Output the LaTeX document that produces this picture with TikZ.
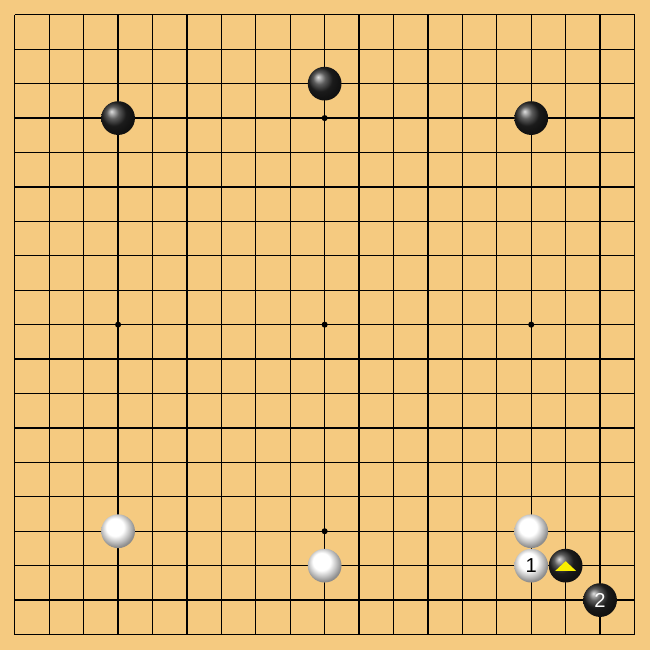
\documentclass[tikz,border=0pt]{standalone}
\usepackage{fontspec}
\setsansfont{Liberation Sans}
\usetikzlibrary{calc,shadings}
\definecolor{boardwood}{RGB}{245,202,128}
\definecolor{markyellow}{RGB}{250,240,0}
\pgfdeclareradialshading{whiteball}{\pgfqpoint{-6bp}{8bp}}{color(0bp)=(white); color(13bp)=(white); color(21bp)=(black!25); color(27bp)=(black!45); color(50bp)=(black!60)}
\tikzset{
	bstone/.style={circle, inner sep=0pt, minimum size=0.98cm*0.6, shading=ball, ball color=black!85},
	wstone/.style={circle, inner sep=0pt, minimum size=0.98cm*0.6, shading=whiteball},
	movenum/.style={font=\sffamily\fontsize{10}{12}\selectfont}
}

\begin{document}
\begin{tikzpicture}[x=0.6cm, y=-0.6cm]
		%%%%% START %%%%%
		
		\fill[boardwood] (-0.43, -0.43) rectangle (18.45, 18.45);
		\useasboundingbox (-0.43, -0.43) rectangle (18.45, 18.45);
		
		\foreach \i in {0,...,18}{
			\draw[line width=0.6pt] (\i, 0) -- (\i, 18);
			\draw[line width=0.6pt] (0, \i) -- (18, \i);
		}
		
		\foreach \i in {3,9,15}
			\foreach \j in {3,9,15}
				\fill (\i, \j) circle (1.5pt);
		
		% black stones
		\node[bstone] (b1) at (3, 3) {};
		\node[bstone] (b2) at (9, 2) {};
		\node[bstone] (b3) at (15, 3) {};
		\node[bstone] (b4) at (16, 16) {};
		\node[bstone] (b5) at (17, 17) {};
		
		% white stones
		\node[wstone] (w1) at (3, 15) {};
		\node[wstone] (w2) at (9, 16) {};
		\node[wstone] (w3) at (15, 15) {};
		\node[wstone] (w4) at (15, 16) {};
		
		\fill[markyellow] ($(b4)+(-0.3, 0.15)$) -- ($(b4)+(0, -0.13)$) -- ($(b4)+(0.3, 0.15)$) -- cycle;
		
		\node[movenum, text=black] (n1) at (w4) {1};
		\node[movenum, text=white] (n2) at (b5) {2};
		
		%%%%% END %%%%%
	\end{tikzpicture}
\end{document}
